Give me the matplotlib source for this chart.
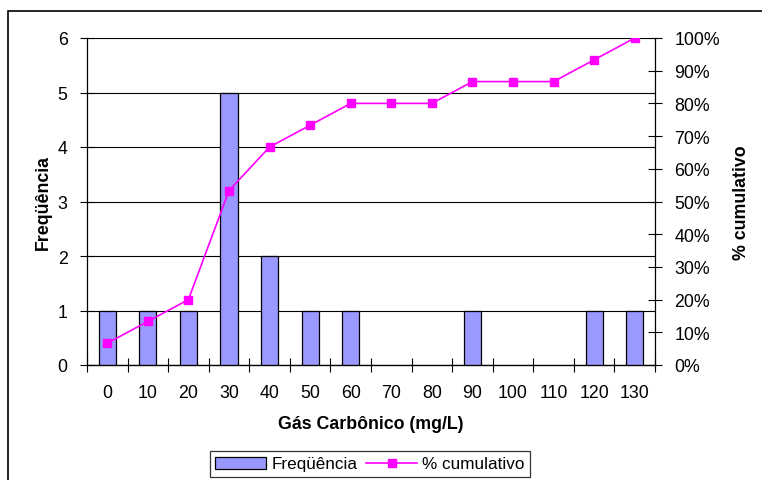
import matplotlib
matplotlib.use("Agg")
import matplotlib.pyplot as plt
from matplotlib.patches import Rectangle
from matplotlib.ticker import MultipleLocator, FuncFormatter
import numpy as np

plt.rcParams['font.family'] = ['Liberation Sans', 'DejaVu Sans']

categories = ['0', '10', '20', '30', '40', '50', '60', '70', '80', '90', '100', '110', '120', '130']
frequencia = [1, 1, 1, 5, 2, 1, 1, 0, 0, 1, 0, 0, 1, 1]
cumulativo = [6.67, 13.33, 20.0, 53.33, 66.67, 73.33, 80.0, 80.0, 80.0, 86.67, 86.67, 86.67, 93.33, 100.0]

W, H = 762, 481
fig = plt.figure(figsize=(W / 100, H / 100), dpi=100)

# outer chart frame
fig.add_artist(Rectangle((8 / W, -0.1), 1.2, 1 - 12 / H + 0.1, transform=fig.transFigure,
                         fill=False, edgecolor='black', linewidth=1.2))

left, right, top, bottom = 87, 655, 39, 366
ax = fig.add_axes([left / W, 1 - bottom / H, (right - left) / W, (bottom - top) / H])
ax2 = ax.twinx()

FS = 12.8

x = np.arange(len(categories))
bars = ax.bar(x, frequencia, width=0.42, color='#9999FF', edgecolor='black', linewidth=0.9,
              zorder=3, label='Freqüência')
for b, v in zip(bars, frequencia):
    if v == 0:
        b.set_linewidth(0)
ax.set_xlim(-0.5, len(categories) - 0.5)
ax.set_ylim(0, 6)
ax.yaxis.set_major_locator(MultipleLocator(1))
ax.grid(axis='y', color='black', linewidth=0.8, zorder=0)
ax.set_axisbelow(True)

ax.set_xticks(x)
ax.set_xticklabels(categories)
ax.set_xticks(np.arange(-0.5, len(categories), 1), minor=True)
ax.tick_params(axis='x', which='major', length=0, labelsize=FS, pad=14)
ax.tick_params(axis='x', which='minor', length=10, direction='inout', width=0.8)
ax.tick_params(axis='y', length=10, direction='inout', width=0.8, labelsize=FS, pad=9)

for s in ['top', 'right']:
    ax.spines[s].set_visible(False)
ax2.spines['top'].set_visible(False)
ax2.spines['left'].set_visible(False)
for sp in [ax.spines['left'], ax.spines['bottom'], ax2.spines['right']]:
    sp.set_linewidth(0.9)

ax2.plot(x, cumulativo, color='#FF00FF', marker='s', markersize=6, linewidth=1.2, zorder=4,
         label='% cumulativo')
ax2.set_ylim(0, 100)
ax2.yaxis.set_major_locator(MultipleLocator(10))
ax2.yaxis.set_major_formatter(FuncFormatter(lambda v, p: f'{v:.0f}%'))
ax2.tick_params(axis='y', length=10, direction='inout', width=0.8, labelsize=FS, pad=9)

ax.set_xlabel('Gás Carbônico (mg/L)', fontsize=FS, fontweight='bold', labelpad=10)
ax.set_ylabel('Freqüência', fontsize=FS, fontweight='bold', labelpad=4)
ax2.set_ylabel('% cumulativo', fontsize=FS, fontweight='bold', labelpad=9)

h1, l1 = ax.get_legend_handles_labels()
h2, l2 = ax2.get_legend_handles_labels()
leg = fig.legend(h1 + h2, l1 + l2, loc='center', bbox_to_anchor=(370 / W, 1 - 465 / H), ncol=2,
                 frameon=True, fancybox=False, edgecolor='black', fontsize=12.3,
                 handlelength=3.0, columnspacing=0.5, handletextpad=0.3, borderpad=0.3)
leg.get_frame().set_linewidth(0.9)

fig.savefig('out.png', dpi=100)
